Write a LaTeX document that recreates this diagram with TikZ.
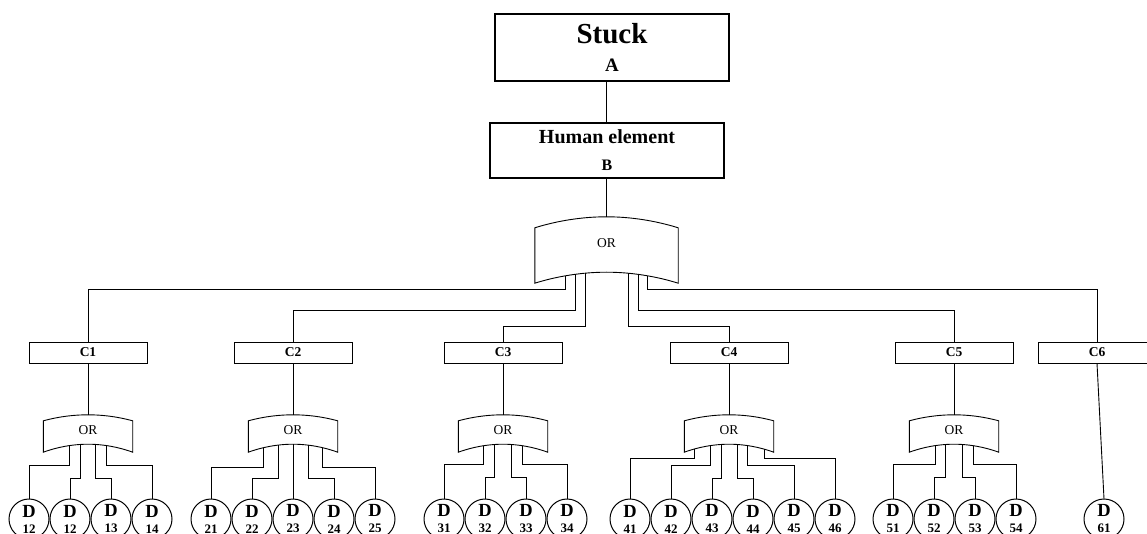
\documentclass[tikz,border=0pt]{standalone}
\usepackage{fontspec}
\setmainfont{Liberation Serif}
\usepackage{tikz}
\usetikzlibrary{positioning}
\tikzset{
  topbox/.style={
    rectangle, draw, line width=1.2pt,
    minimum width=234pt, inner sep=0pt,
    align=center,
  },
  causebox/.style={
    rectangle, draw, line width=1pt,
    minimum width=118pt, minimum height=21pt, inner sep=0pt,
    font=\fontsize{13.5}{13.5}\selectfont\bfseries,
  },
  orgate/.style={
    rectangle, minimum width=89pt, minimum height=37pt, inner sep=0pt,
    text depth=6pt, font=\fontsize{13.5}{13.5}\selectfont,
  },
  event/.style={
    circle, draw, line width=1pt,
    minimum size=40pt, inner sep=0pt, outer sep=0pt,
    align=center, font=\fontsize{13}{16}\selectfont\bfseries,
  },
  link/.style={line width=0.9pt},
}
% outline of an OR gate round a node: name, top drop, bottom rise
\newcommand{\orgateoutline}[3]{%
  \draw[link] ([yshift=-#2]#1.north west) parabola bend (#1.north) ([yshift=-#2]#1.north east)
    -- (#1.south east) parabola bend ([yshift=#3]#1.south) (#1.south west) -- cycle;}
\newcommand{\evtag}[1]{{\fontsize{18.5}{16}\selectfont D}\\#1}

\begin{document}
\begin{tikzpicture}[x=1pt, y=1pt, node distance=1pt]

  \path[use as bounding box, clip] (0,0) rectangle (1147,-534);
  \fill[white] (0,0) rectangle (1147,-534);

  % top events
  \node[topbox, minimum height=67pt, font=\fontsize{19}{28}\selectfont\bfseries] (stuck) at (612,-47.5)
    {{\fontsize{29}{28}\selectfont Stuck}\\A};
  \node[topbox, minimum height=55pt, font=\fontsize{16}{27}\selectfont\bfseries] (human) at (607,-150.5)
    {{\fontsize{20}{27}\selectfont Human element}\\B};
  \node[orgate, minimum width=143pt, minimum height=66pt, text depth=14pt] (or0) at (606.5,-250) {OR};

  % causes
  \node[causebox] (c1) at (88,-352.5) {C1};
  \node[causebox] (c2) at (293,-352.5) {C2};
  \node[causebox] (c3) at (503,-352.5) {C3};
  \node[causebox] (c4) at (729,-352.5) {C4};
  \node[causebox] (c5) at (954,-352.5) {C5};
  \node[causebox] (c6) at (1097,-352.5) {C6};

  \node[orgate] (or1) at (88,-433.5) {OR};
  \node[orgate] (or2) at (293,-433.5) {OR};
  \node[orgate] (or3) at (503,-433.5) {OR};
  \node[orgate] (or4) at (729,-433.5) {OR};
  \node[orgate] (or5) at (954,-433.5) {OR};

  % basic events
  \node[event] (d121) at (29,-519) {\evtag{12}};
  \node[event, right=of d121] (d122) {\evtag{12}};
  \node[event, right=of d122] (d13) {\evtag{13}};
  \node[event, right=of d13] (d14) {\evtag{14}};

  \node[event] (d21) at (211,-519) {\evtag{21}};
  \node[event, right=of d21] (d22) {\evtag{22}};
  \node[event, right=of d22] (d23) {\evtag{23}};
  \node[event, right=of d23] (d24) {\evtag{24}};
  \node[event, right=of d24] (d25) {\evtag{25}};

  \node[event] (d31) at (444,-519) {\evtag{31}};
  \node[event, right=of d31] (d32) {\evtag{32}};
  \node[event, right=of d32] (d33) {\evtag{33}};
  \node[event, right=of d33] (d34) {\evtag{34}};

  \node[event] (d41) at (630,-519) {\evtag{41}};
  \node[event, right=of d41] (d42) {\evtag{42}};
  \node[event, right=of d42] (d43) {\evtag{43}};
  \node[event, right=of d43] (d44) {\evtag{44}};
  \node[event, right=of d44] (d45) {\evtag{45}};
  \node[event, right=of d45] (d46) {\evtag{46}};

  \node[event] (d51) at (893,-519) {\evtag{51}};
  \node[event, right=of d51] (d52) {\evtag{52}};
  \node[event, right=of d52] (d53) {\evtag{53}};
  \node[event, right=of d53] (d54) {\evtag{54}};

  \node[event] (d61) at (1104,-519) {\evtag{61}};

  % gate outlines
  \orgateoutline{or0}{11pt}{11pt}
  \orgateoutline{or1}{6pt}{8pt}
  \orgateoutline{or2}{6pt}{8pt}
  \orgateoutline{or3}{6pt}{8pt}
  \orgateoutline{or4}{6pt}{8pt}
  \orgateoutline{or5}{6pt}{8pt}

  % connectors
  \draw[link] (stuck.south -| or0.north) -- (human.north -| or0.north);
  \draw[link] (human.south -| or0.north) -- (or0.north);

  \draw[link] ([xshift=-41pt,yshift=7.4pt]or0.south) -- ++(0,-13.4) -| (c1.north);
  \draw[link] ([xshift=-31.5pt,yshift=8.9pt]or0.south) -- ++(0,-35.9) -| (c2.north);
  \draw[link] ([xshift=-21.5pt,yshift=10pt]or0.south) -- ++(0,-53) -| (c3.north);
  \draw[link] ([xshift=21.5pt,yshift=10pt]or0.south) -- ++(0,-53) -| (c4.north);
  \draw[link] ([xshift=31.5pt,yshift=8.9pt]or0.south) -- ++(0,-35.9) -| (c5.north);
  \draw[link] ([xshift=41pt,yshift=7.4pt]or0.south) -- ++(0,-13.4) -| (c6.north);

  \draw[link] (c1) -- (or1);
  \draw[link] (c2) -- (or2);
  \draw[link] (c3) -- (or3);
  \draw[link] (c4) -- (or4);
  \draw[link] (c5) -- (or5);
  \draw[link] (c6.south) -- (d61.north);

  \draw[link] ([xshift=-18.5pt,yshift=6.6pt]or1.south) -- ++(0,-19.6) -| (d121.north);
  \draw[link] ([xshift=-7.5pt,yshift=7.8pt]or1.south) -- ++(0,-33.8) -| (d122.north);
  \draw[link] ([xshift=7.5pt,yshift=7.8pt]or1.south) -- ++(0,-33.8) -| (d13.north);
  \draw[link] ([xshift=18.5pt,yshift=6.6pt]or1.south) -- ++(0,-19.6) -| (d14.north);

  \draw[link] ([xshift=-29.5pt,yshift=4.5pt]or2.south) -- ++(0,-19.5) -| (d21.north);
  \draw[link] ([xshift=-15pt,yshift=7.1pt]or2.south) -- ++(0,-33.1) -| (d22.north);
  \draw[link] ([yshift=8pt]or2.south) -- (d23.north);
  \draw[link] ([xshift=15pt,yshift=7.1pt]or2.south) -- ++(0,-33.1) -| (d24.north);
  \draw[link] ([xshift=29.5pt,yshift=4.5pt]or2.south) -- ++(0,-19.5) -| (d25.north);

  \draw[link] ([xshift=-19.5pt,yshift=6.5pt]or3.south) -- ++(0,-18.5) -| (d31.north);
  \draw[link] ([xshift=-8.5pt,yshift=7.7pt]or3.south) -- ++(0,-32.7) -| (d32.north);
  \draw[link] ([xshift=8.5pt,yshift=7.7pt]or3.south) -- ++(0,-32.7) -| (d33.north);
  \draw[link] ([xshift=19.5pt,yshift=6.5pt]or3.south) -- ++(0,-18.5) -| (d34.north);

  \draw[link] ([xshift=-35pt,yshift=3pt]or4.south) -- ++(0,-9) -| (d41.north);
  \draw[link] ([xshift=-18.5pt,yshift=6.6pt]or4.south) -- ++(0,-19.6) -| (d42.north);
  \draw[link] ([xshift=-8pt,yshift=7.7pt]or4.south) -- ++(0,-33.7) -| (d43.north);
  \draw[link] ([xshift=8pt,yshift=7.7pt]or4.south) -- ++(0,-33.7) -| (d44.north);
  \draw[link] ([xshift=18.5pt,yshift=6.6pt]or4.south) -- ++(0,-19.6) -| (d45.north);
  \draw[link] ([xshift=35pt,yshift=3pt]or4.south) -- ++(0,-9) -| (d46.north);

  \draw[link] ([xshift=-19pt,yshift=6.5pt]or5.south) -- ++(0,-18.5) -| (d51.north);
  \draw[link] ([xshift=-8.5pt,yshift=7.7pt]or5.south) -- ++(0,-32.7) -| (d52.north);
  \draw[link] ([xshift=8.5pt,yshift=7.7pt]or5.south) -- ++(0,-32.7) -| (d53.north);
  \draw[link] ([xshift=19pt,yshift=6.5pt]or5.south) -- ++(0,-18.5) -| (d54.north);

\end{tikzpicture}
\end{document}
